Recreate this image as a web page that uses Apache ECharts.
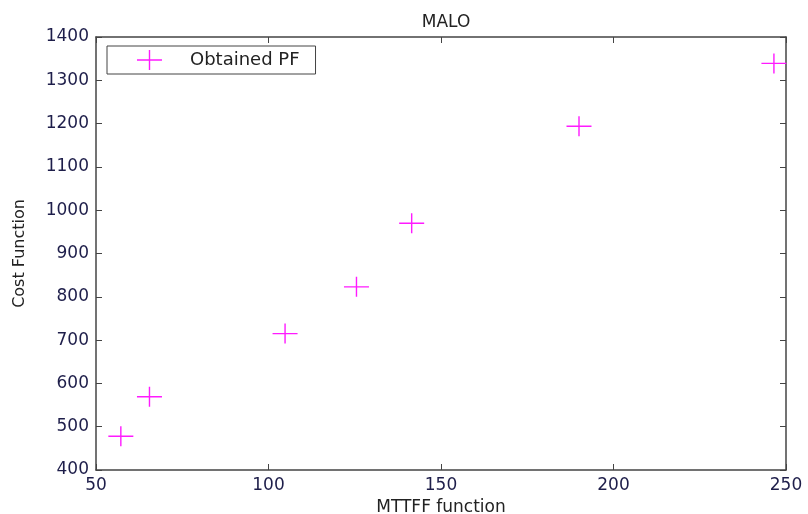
<!DOCTYPE html>
<html>
<head>
<meta charset="utf-8">
<script src="https://cdn.jsdelivr.net/npm/echarts@6/dist/echarts.min.js"></script>
<style>
  html, body { margin: 0; padding: 0; background: #fff; }
  #chart { width: 808px; height: 514px; }
</style>
</head>
<body>
<div id="chart"></div>
<script>
// Pareto front points (MTTFF vs cost)
const mttff = [57.2, 65.5, 104.8, 125.5, 141.5, 190.0, 246.5];
const cost = [478, 569, 715, 823, 970, 1194, 1339];
const xTicks = [50, 100, 150, 200, 250];
const yTicks = [400, 500, 600, 700, 800, 900, 1000, 1100, 1200, 1300, 1400];

const points = mttff.map((x, i) => [x, cost[i]]);

// Plus-shaped marker built from two thin bars
const plusPath = 'path://M0,9.3L25,9.3L25,10.7L0,10.7Z M11.8,0L13.2,0L13.2,20L11.8,20Z';

const FONT = 'DejaVu Sans';
const labelColor = '#1e1e4a';
const textColor = '#222';
const axisColor = '#444';

const chart = echarts.init(document.getElementById('chart'));
chart.setOption({
  backgroundColor: '#fff',
  animation: false,
  title: {
    text: 'MALO',
    left: 441,
    top: 9,
    textAlign: 'center',
    textStyle: { fontFamily: FONT, fontSize: 17, fontWeight: 'normal', color: textColor }
  },
  legend: {
    left: 107,
    top: 46,
    orient: 'horizontal',
    icon: plusPath,
    itemWidth: 25,
    itemHeight: 20,
    padding: [4, 16, 4, 30],
    borderColor: '#444',
    borderWidth: 1,
    backgroundColor: '#fff',
    textStyle: { fontFamily: FONT, fontSize: 18, color: textColor, padding: [0, 0, 0, 23] },
    data: ['Obtained PF']
  },
  grid: { left: 96, top: 37, right: 22, bottom: 44, containLabel: false, outerBoundsMode: 'none' },
  xAxis: [{
    type: 'value',
    min: xTicks[0], max: xTicks[xTicks.length - 1], interval: xTicks[1] - xTicks[0],
    name: 'MTTFF function',
    nameLocation: 'middle',
    nameGap: 28,
    nameTextStyle: { fontFamily: FONT, fontSize: 17, color: textColor },
    axisLine: { show: true, lineStyle: { color: axisColor, width: 1.5 } },
    axisTick: { show: true, inside: true, length: 6, lineStyle: { color: axisColor } },
    axisLabel: { fontFamily: FONT, fontSize: 17, color: labelColor, margin: 7 },
    splitLine: { show: false }
  }, {
    type: 'value',
    position: 'top',
    min: xTicks[0], max: xTicks[xTicks.length - 1], interval: xTicks[1] - xTicks[0],
    axisLine: { show: true, onZero: false, lineStyle: { color: axisColor, width: 1.5 } },
    axisTick: { show: true, inside: true, length: 6, lineStyle: { color: axisColor } },
    axisLabel: { show: false },
    splitLine: { show: false }
  }],
  yAxis: [{
    type: 'value',
    min: yTicks[0], max: yTicks[yTicks.length - 1], interval: yTicks[1] - yTicks[0],
    name: 'Cost Function',
    nameLocation: 'middle',
    nameGap: 68,
    nameTextStyle: { fontFamily: FONT, fontSize: 16, color: textColor },
    axisLine: { show: true, lineStyle: { color: axisColor, width: 1.5 } },
    axisTick: { show: true, inside: true, length: 6, lineStyle: { color: axisColor } },
    axisLabel: { fontFamily: FONT, fontSize: 17, color: labelColor, margin: 7, formatter: v => String(v) },
    splitLine: { show: false }
  }, {
    type: 'value',
    position: 'right',
    min: yTicks[0], max: yTicks[yTicks.length - 1], interval: yTicks[1] - yTicks[0],
    axisLine: { show: true, onZero: false, lineStyle: { color: axisColor, width: 1.5 } },
    axisTick: { show: true, inside: true, length: 6, lineStyle: { color: axisColor } },
    axisLabel: { show: false },
    splitLine: { show: false }
  }],
  series: [{
    name: 'Obtained PF',
    type: 'scatter',
    xAxisIndex: 0,
    yAxisIndex: 0,
    symbol: plusPath,
    symbolSize: [25, 20],
    itemStyle: { color: '#ff1aff', opacity: 1 },
    data: points
  }]
});
</script>
</body>
</html>
